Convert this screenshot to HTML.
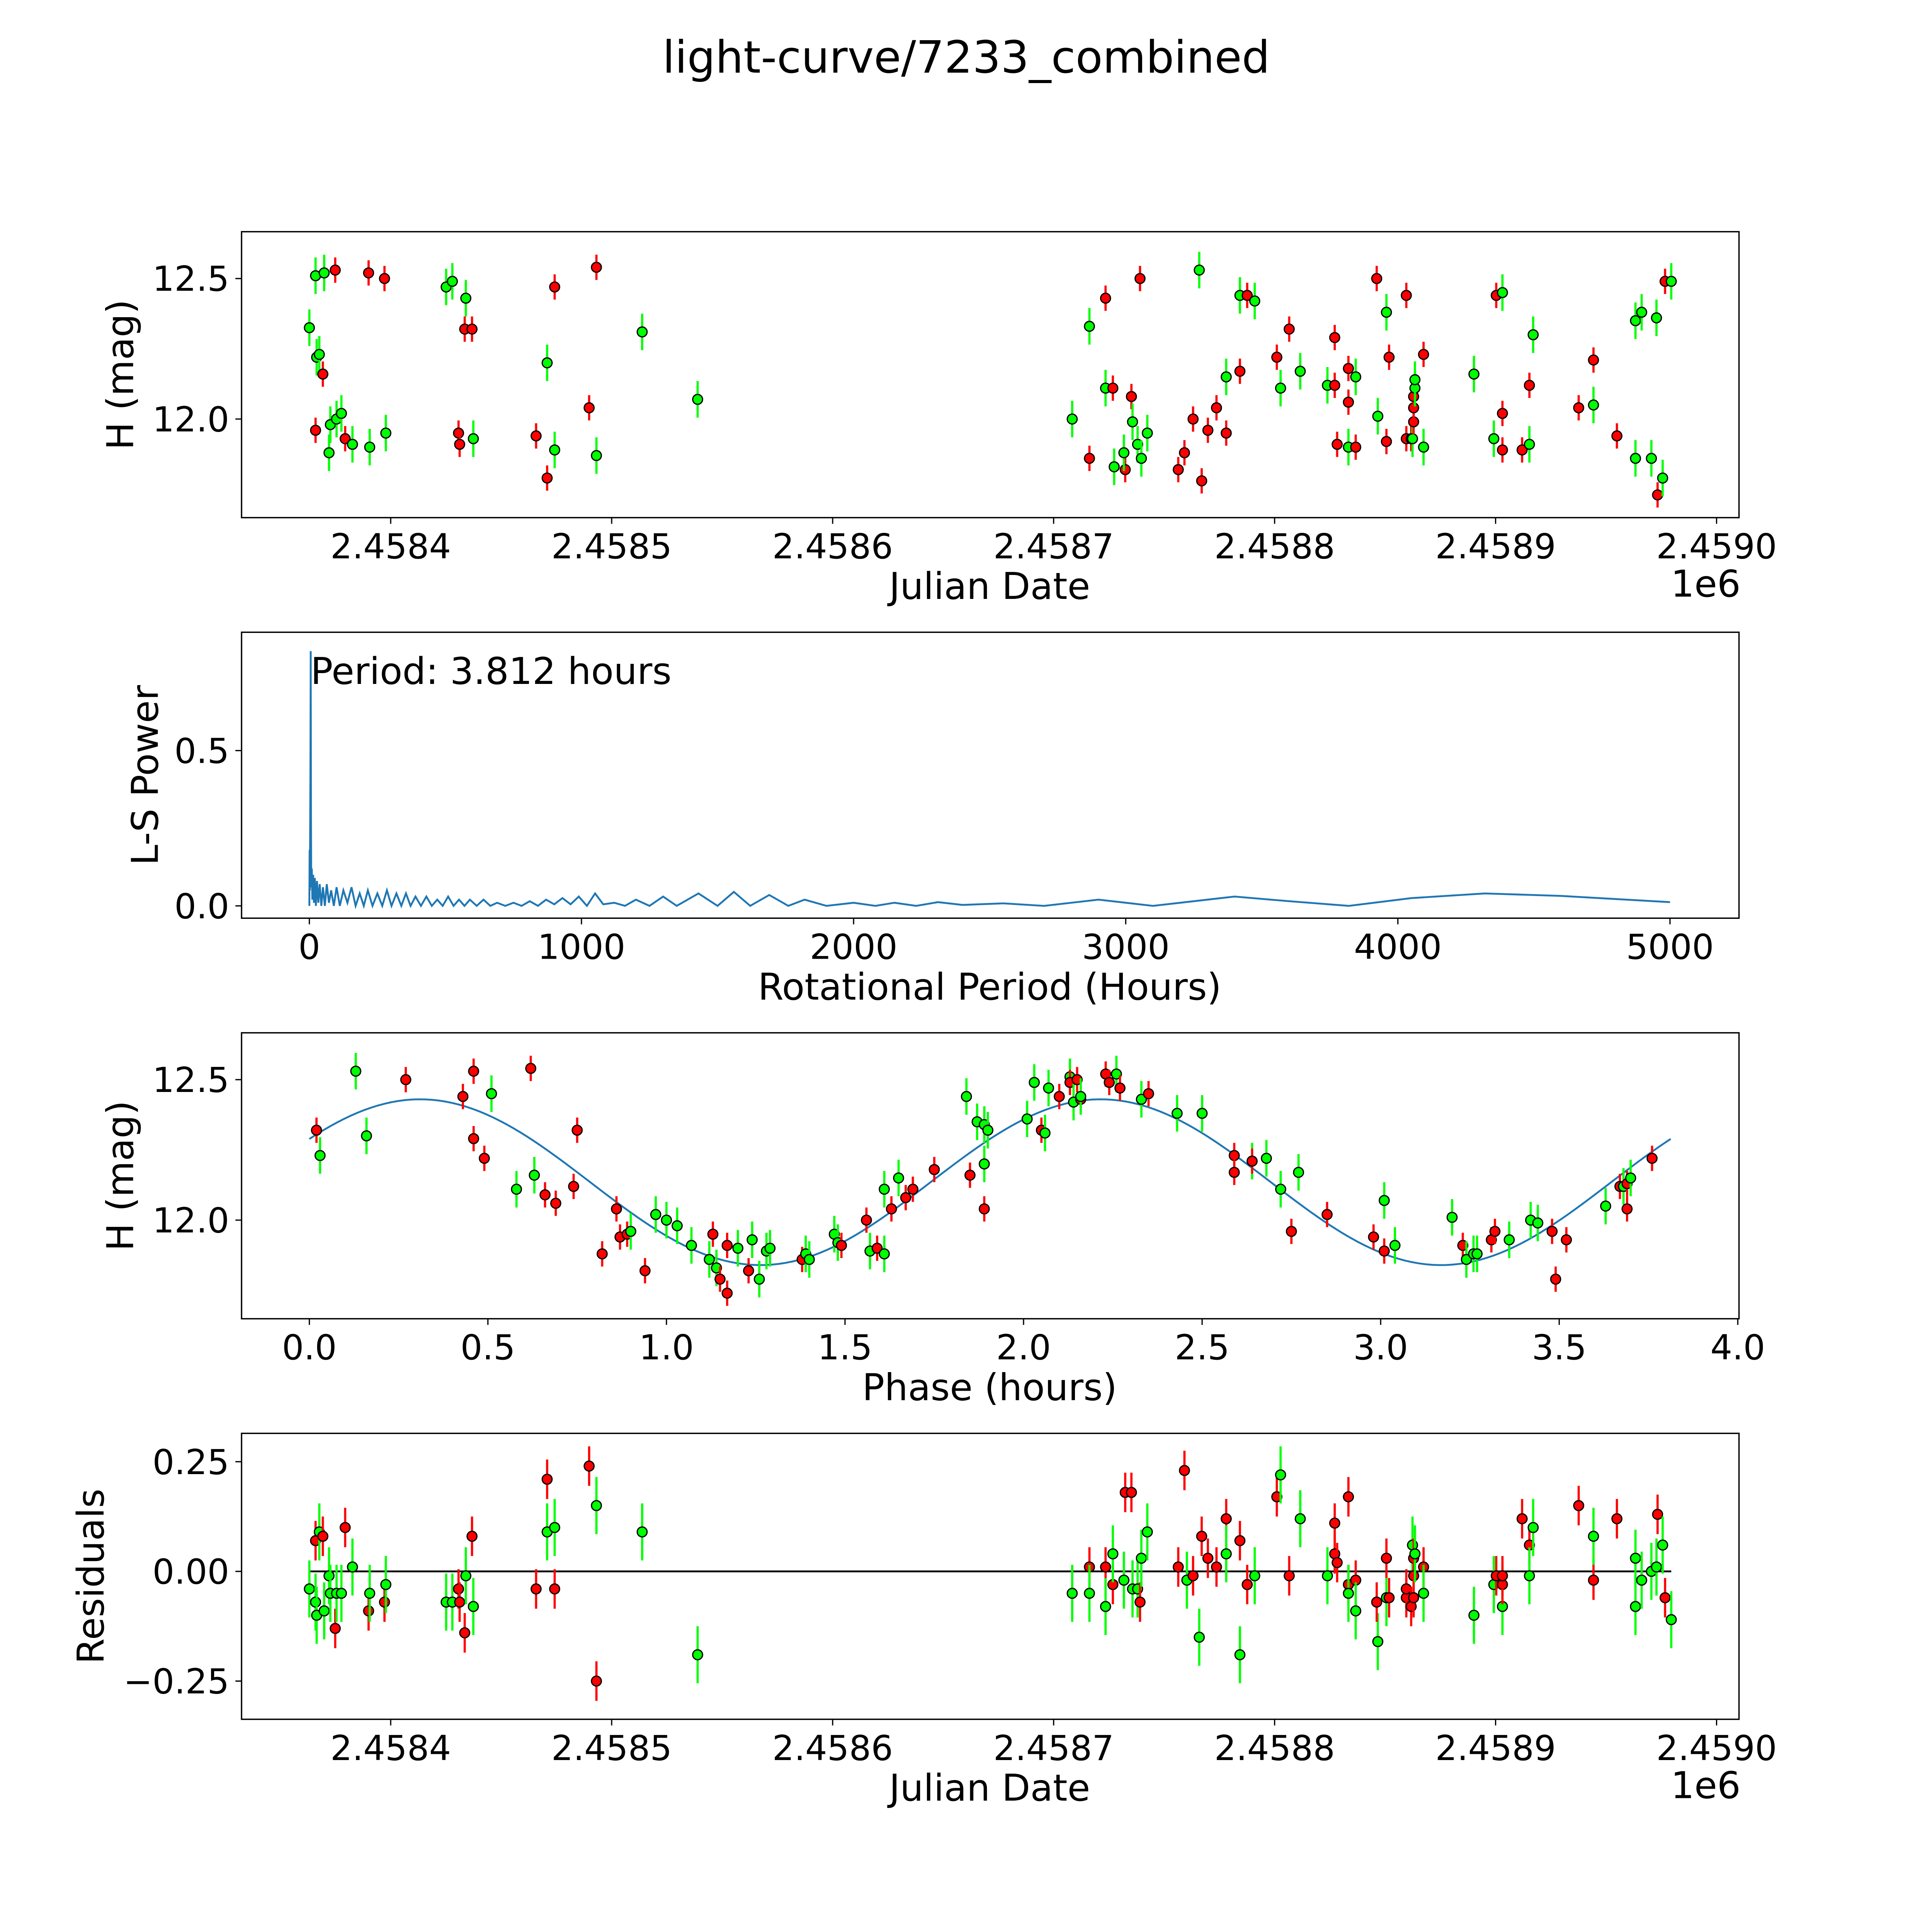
<!DOCTYPE html>
<html><head><meta charset="utf-8"><style>
html,body{margin:0;padding:0;background:#fff;overflow:hidden;width:5400px;height:5400px;}
svg{display:block;}
text{font-family:"DejaVu Sans","Liberation Sans",sans-serif;fill:#000;}
</style></head>
<body>
<svg id="fig" width="5400" height="5400" viewBox="0 0 1693 1693" xmlns="http://www.w3.org/2000/svg">
<rect x="0" y="0" width="1693" height="1693" fill="#fff"/>
<text x="784" y="59" font-size="36" text-anchor="middle">light-curve/7233_combined</text>
</svg>
<script>
// ---------- DATA ----------
// Panel 1: light curve (days since JD 2458400)
const lcDays = [-36.8,-34.0,-34.0,-33.5,-32.3,-30.7,-30.1,-27.9,-27.3,-25.1,-24.5,-22.3,-20.6,-17.3,-10.0,-9.5,-2.8,-2.2,25.1,27.9,30.7,31.2,34.0,33.5,36.8,37.4,65.8,70.8,70.8,74.2,74.2,89.8,93.1,93.1,113.8,138.9,308.4,316.2,316.2,323.5,323.5,326.8,327.4,332.4,331.8,335.2,335.7,338.0,339.1,339.7,342.4,356.4,359.2,363.1,365.9,367.0,369.8,373.7,378.1,378.1,384.3,384.3,387.6,391.0,401.0,402.7,406.6,411.6,423.9,427.2,427.2,428.3,433.4,433.4,433.4,436.7,436.7,446.7,446.2,450.6,450.6,451.8,459.6,459.6,461.8,462.4,462.9,462.9,462.9,463.5,463.5,467.4,467.4,490.2,499.2,500.3,503.1,503.1,503.1,512.0,515.3,515.3,517.0,537.6,544.3,544.3,554.9,563.3,563.3,566.1,570.5,572.8,573.3,576.7,575.6,579.5];
const lcMags = [12.325,11.96,12.51,12.22,12.23,12.16,12.52,11.88,11.98,12.53,12.00,12.02,11.93,11.91,12.52,11.90,12.50,11.95,12.47,12.49,11.95,11.91,12.43,12.32,12.32,11.93,11.94,11.79,12.20,12.47,11.89,12.04,12.54,11.87,12.31,12.07,12.00,11.86,12.33,12.43,12.11,12.11,11.83,11.82,11.88,12.08,11.99,11.91,12.50,11.86,11.95,11.82,11.88,12.00,12.53,11.78,11.96,12.04,11.95,12.15,12.17,12.44,12.44,12.42,12.22,12.11,12.32,12.17,12.12,12.12,12.29,11.91,12.18,12.06,11.90,11.90,12.15,12.01,12.50,12.38,11.92,12.22,12.44,11.93,11.93,11.93,11.99,12.04,12.08,12.11,12.14,12.23,11.90,12.16,11.93,12.44,12.45,12.02,11.89,11.89,11.91,12.12,12.30,12.04,12.21,12.05,11.94,12.35,11.86,12.38,11.86,12.36,11.73,12.49,11.79,12.49];
const lcCols = "grgggrgggr"+"ggrgrgrggg"+"rrgrrgrrgr"+"grrggggrgr"+"grgrgrggrg"+"grrrgrrrrg"+"rgrgrgrggr"+"rrrrgrggrg"+"rrrrrgrrrg"+"grgggrgrrr"+"grgrrgrggg"+"ggrrgg";
// Panel 2: periodogram
const lsPeriods = [0,1,2,4,5,6,7,9,11,14,17,20,24,28,33,38,44,50,57,64,72,80,90,100,112,125,140,155,170,185,200,215,232,250,268,285,302,320,338,355,372,390,410,430,450,470,490,510,530,550,570,590,615,640,665,690,720,750,780,810,840,870,900,930,960,990,1020,1050,1080,1120,1160,1200,1250,1300,1350,1430,1500,1560,1620,1690,1760,1820,1900,2000,2080,2150,2230,2310,2400,2550,2700,2900,3100,3400,3600,3820,4050,4320,4600,5000];
const lsPower = [0,0.18,0.05,0.45,0.82,0.3,0.06,0.12,0.02,0.1,0.01,0.09,0.0,0.08,0.01,0.07,0.0,0.06,0.0,0.07,0.01,0.05,0.0,0.06,0.0,0.05,0.01,0.06,0.0,0.04,0.0,0.05,0.0,0.04,0.0,0.05,0.0,0.04,0.0,0.04,0.0,0.03,0.0,0.03,0.0,0.02,0.0,0.03,0.0,0.02,0.0,0.02,0.0,0.02,0.0,0.01,0.0,0.01,0.0,0.015,0.0,0.02,0.005,0.025,0.005,0.03,0.0,0.04,0.005,0.01,0.0,0.02,0.0,0.03,0.0,0.04,0.0,0.045,0.0,0.035,0.0,0.02,0.0,0.01,0.0,0.01,0.0,0.012,0.003,0.008,0.0,0.02,0.0,0.03,0.015,0.0,0.025,0.04,0.032,0.012];
const bestPeriod = "3.812";
// Panel 3: phase-folded
const phPhase = [0.02,0.03,0.13,0.16,0.27,0.43,0.46,0.46,0.49,0.51,0.58,0.63,0.62,0.66,0.69,0.74,0.75,0.82,0.86,0.87,0.89,0.90,0.94,0.97,1.00,1.03,1.07,1.12,1.13,1.14,1.15,1.17,1.17,1.20,1.23,1.24,1.26,1.28,1.29,1.38,1.39,1.40,1.47,1.48,1.49,1.56,1.57,1.59,1.61,1.61,1.63,1.65,1.67,1.69,1.75,1.84,1.85,1.87,1.89,1.90,1.89,1.89,2.01,2.03,2.05,2.06,2.07,2.10,2.13,2.13,2.14,2.15,2.16,2.16,2.23,2.24,2.26,2.27,2.33,2.35,2.43,2.50,2.59,2.59,2.64,2.64,2.68,2.72,2.75,2.77,2.85,2.98,3.01,3.01,3.04,3.20,3.23,3.24,3.26,3.27,3.31,3.32,3.36,3.42,3.44,3.48,3.49,3.52,3.63,3.67,3.68,3.69,3.70,3.69,3.76];
const phMags = [12.32,12.23,12.53,12.30,12.50,12.44,12.53,12.29,12.22,12.45,12.11,12.16,12.54,12.09,12.06,12.12,12.32,11.88,12.04,11.94,11.95,11.96,11.82,12.02,12.00,11.98,11.91,11.86,11.95,11.83,11.79,11.74,11.91,11.90,11.82,11.93,11.79,11.89,11.90,11.86,11.88,11.86,11.95,11.92,11.91,12.00,11.89,11.90,11.88,12.11,12.04,12.15,12.08,12.11,12.18,12.44,12.16,12.35,12.34,12.32,12.20,12.04,12.36,12.49,12.32,12.31,12.47,12.44,12.51,12.49,12.42,12.50,12.43,12.44,12.52,12.49,12.52,12.47,12.43,12.45,12.38,12.38,12.23,12.17,12.21,12.21,12.22,12.11,11.96,12.17,12.02,11.94,12.07,11.89,11.91,12.01,11.91,11.86,11.88,11.88,11.93,11.96,11.93,12.00,11.99,11.96,11.79,11.93,12.05,12.12,12.12,12.13,12.15,12.04,12.22];
const phCols = "rgggrrrrrg"+"ggrrrrrrrr"+"rgrgggggrg"+"rrrgrggggr"+"ggggrrgrgg"+"rgrrrgrggg"+"grggrggrgr"+"grrgrrgrgr"+"ggrrgrggrg"+"rrgrggrggg"+"rrgggrrrgr"+"grgrr";
const modelMean = 12.135, modelAmp = 0.295, modelPeriod = 1.906, modelPeak = 0.31, modelMaxPhase = 3.812;
// Panel 4: residuals
const resDays = [-36.8,-34.0,-34.0,-33.5,-32.3,-30.7,-30.1,-27.9,-27.3,-25.1,-24.5,-22.3,-20.6,-17.3,-10.0,-9.5,-2.8,-2.2,25.1,27.9,30.7,31.2,34.0,33.5,36.8,37.4,65.8,70.8,70.8,74.2,74.2,89.8,93.1,93.1,113.8,138.9,308.4,316.2,316.2,323.5,323.5,326.8,326.8,332.4,331.8,335.2,335.7,338.0,339.1,339.7,342.4,356.4,359.2,360.3,363.1,365.9,367.0,369.8,373.7,378.1,378.1,384.3,384.3,387.6,391.0,401.0,402.7,406.6,411.6,423.9,427.2,427.2,428.3,433.4,433.4,433.4,436.7,436.7,446.7,446.2,450.6,450.6,451.8,459.6,459.6,461.8,462.4,462.9,462.9,462.9,463.5,467.4,467.4,490.2,499.2,500.3,503.1,503.1,503.1,512.0,515.3,515.3,517.0,537.6,544.3,544.3,554.9,563.3,563.3,566.1,570.5,572.8,573.3,576.7,575.6,579.5];
const resVals = [-0.04,0.07,-0.07,-0.10,0.09,0.08,-0.09,-0.01,-0.05,-0.13,-0.05,-0.05,0.10,0.01,-0.09,-0.05,-0.07,-0.03,-0.07,-0.07,-0.04,-0.07,-0.01,-0.14,0.08,-0.08,-0.04,0.21,0.09,-0.04,0.10,0.24,-0.25,0.15,0.09,-0.19,-0.05,0.01,-0.05,0.01,-0.08,-0.03,0.04,0.18,-0.02,0.18,-0.04,-0.04,-0.07,0.03,0.09,0.01,0.23,-0.02,-0.01,-0.15,0.08,0.03,0.01,0.12,0.04,0.07,-0.19,-0.03,-0.01,0.17,0.22,-0.01,0.12,-0.01,0.11,0.04,0.02,0.17,-0.03,-0.05,-0.02,-0.09,-0.16,-0.07,-0.06,0.03,-0.06,-0.06,-0.04,-0.08,0.06,0.03,-0.01,-0.06,0.04,0.01,-0.05,-0.10,-0.03,-0.01,-0.08,-0.03,-0.01,0.12,0.06,-0.01,0.10,0.15,-0.02,0.08,0.12,0.03,-0.08,-0.02,0.00,0.01,0.13,-0.06,0.06,-0.11];
const resCols = "grgggrgggr"+"ggrgrgrggg"+"rrgrrgrrgr"+"grrggggrgr"+"grgrgrggrg"+"grrgrgrrrr"+"grgrgrgrgg"+"rrrrrgrggr"+"grrrrrgrrr"+"grgggrgrrr"+"rggrrgrggg"+"ggrrgg";
const errRed = 0.045, errGreen = 0.065;
const jdTicks = [2458400,2458500,2458600,2458700,2458800,2458900,2459000];
const jdTickLabels = ["2.4584","2.4585","2.4586","2.4587","2.4588","2.4589","2.4590"];
const lsTicks = [0,1000,2000,3000,4000,5000];
const phTicks = [0,0.5,1,1.5,2,2.5,3,3.5,4];
const phTickLabels = ["0.0","0.5","1.0","1.5","2.0","2.5","3.0","3.5","4.0"];

// ---------- DRAW ----------
const NS="http://www.w3.org/2000/svg";
const svg=document.getElementById('fig');
function mk(tag,attrs,parent){const e=document.createElementNS(NS,tag);for(const k in attrs)e.setAttribute(k,attrs[k]);(parent||svg).appendChild(e);return e;}
function txt(s,x,y,size,anchor,parent){const t=mk('text',{x:x,y:y,'font-size':size,'text-anchor':anchor||'middle'},parent);t.textContent=s;return t;}
const L=196,R=1411;
const TICK=28, LAB=30;
function lin(d0,d1,p0,p1){return v=>p0+(v-d0)*(p1-p0)/(d1-d0);}
const xJD=lin(0,100,317,496.3); // days since 2458400
function frame(top,bottom,name){
  const g=mk('g',{});
  
  
  mk('rect',{x:L,y:top,width:R-L,height:bottom-top,fill:'none',stroke:'#000','stroke-width':1.1},g);
  return g;
}
function xtick(g,x,bottom,label){mk('line',{x1:x,y1:bottom,x2:x,y2:bottom+5,stroke:'#000','stroke-width':1},g);const t=txt(label,x,bottom+33,TICK,'middle',g);}
function ytick(g,y,label){mk('line',{x1:L-5,y1:y,x2:L,y2:y,stroke:'#000','stroke-width':1},g);const t=txt(label,L-10,y+10,TICK,'end',g);}
function ylab(g,s,top,bottom,x){const cy=(top+bottom)/2;const t=txt(s,x,cy,LAB,'middle',g);t.setAttribute('transform','rotate(-90 '+x+' '+cy+')');}
function xlab(g,s,y){const t=txt(s,803,y,LAB,'middle',g);}
function point(g,x,y,c,errPx){
  const col=c==='r'?'#ff0000':'#00ff00';
  const l=mk('line',{x1:x,y1:y-errPx,x2:x,y2:y+errPx,stroke:col,'stroke-width':1.8},g);
  
  
  const ci=mk('circle',{cx:x,cy:y,r:4,fill:col,stroke:'#000','stroke-width':1},g);
  
  
}
function errOf(c){return c==='r'?errRed:errGreen;}

// Panel 1
(function(){
  const top=188,bot=420;const g=frame(top,bot,'light-curve-panel');
  const y=lin(12.0,12.5,340,226);
  jdTicks.forEach((t,i)=>xtick(g,xJD(t-2458400),bot,jdTickLabels[i]));
  ytick(g,y(12.5),'12.5');ytick(g,y(12.0),'12.0');
  for(let i=0;i<lcDays.length;i++){const c=lcCols[i]||'g';point(g,xJD(lcDays[i]),y(lcMags[i]),c,errOf(c)*228);}
  xlab(g,'Julian Date',486);ylab(g,'H (mag)',top,bot,108);
  const o=txt('1e6',1384,484,LAB,'middle',g);
})();
// Panel 2
(function(){
  const top=513,bot=745;const g=frame(top,bot,'periodogram-panel');
  const x=lin(0,1000,251,471.8),y=lin(0,0.5,735,609);
  lsTicks.forEach(t=>xtick(g,x(t),bot,String(t)));
  ytick(g,y(0.5),'0.5');ytick(g,y(0),'0.0');
  let d='';for(let i=0;i<lsPeriods.length;i++)d+=(i?'L':'M')+x(lsPeriods[i]).toFixed(2)+' '+y(lsPower[i]).toFixed(2);
  const p=mk('path',{d:d,fill:'none',stroke:'#1f77b4','stroke-width':1.5},g);
  
  const a=txt('Period: '+bestPeriod+' hours',252,555,30,'start',g);
  xlab(g,'Rotational Period (Hours)',811);ylab(g,'L-S Power',top,bot,128);
})();
// Panel 3
(function(){
  const top=838,bot=1070;const g=frame(top,bot,'phase-panel');
  const x=lin(0,4,251,1410),y=lin(12.0,12.5,990,876);
  phTicks.forEach((t,i)=>xtick(g,x(t),bot,phTickLabels[i]));
  ytick(g,y(12.5),'12.5');ytick(g,y(12.0),'12.0');
  let d='';const n=200;for(let i=0;i<=n;i++){const p=modelMaxPhase*i/n;const m=modelMean+modelAmp*Math.cos(2*Math.PI*(p-modelPeak)/modelPeriod);d+=(i?'L':'M')+x(p).toFixed(2)+' '+y(m).toFixed(2);}
  const c=mk('path',{d:d,fill:'none',stroke:'#1f77b4','stroke-width':1.5},g);
  
  for(let i=0;i<phPhase.length;i++){const cc=phCols[i]||'g';point(g,x(phPhase[i]),y(phMags[i]),cc,errOf(cc)*228);}
  xlab(g,'Phase (hours)',1136);ylab(g,'H (mag)',top,bot,108);
})();
// Panel 4
(function(){
  const top=1163,bot=1395;const g=frame(top,bot,'residuals-panel');
  const y=lin(0,0.25,1275,1186);
  jdTicks.forEach((t,i)=>xtick(g,xJD(t-2458400),bot,jdTickLabels[i]));
  ytick(g,y(0.25),'0.25');ytick(g,y(0),'0.00');ytick(g,y(-0.25),'\u22120.25');
  const z=mk('line',{x1:xJD(-36.8),y1:y(0),x2:xJD(579.5),y2:y(0),stroke:'#000','stroke-width':1.5},g);
  
  for(let i=0;i<resDays.length;i++){const c=resCols[i]||'g';point(g,xJD(resDays[i]),y(resVals[i]),c,errOf(c)*356);}
  xlab(g,'Julian Date',1461);ylab(g,'Residuals',top,bot,84);
  const o=txt('1e6',1384,1459,LAB,'middle',g);
})();
</script>
</body></html>
